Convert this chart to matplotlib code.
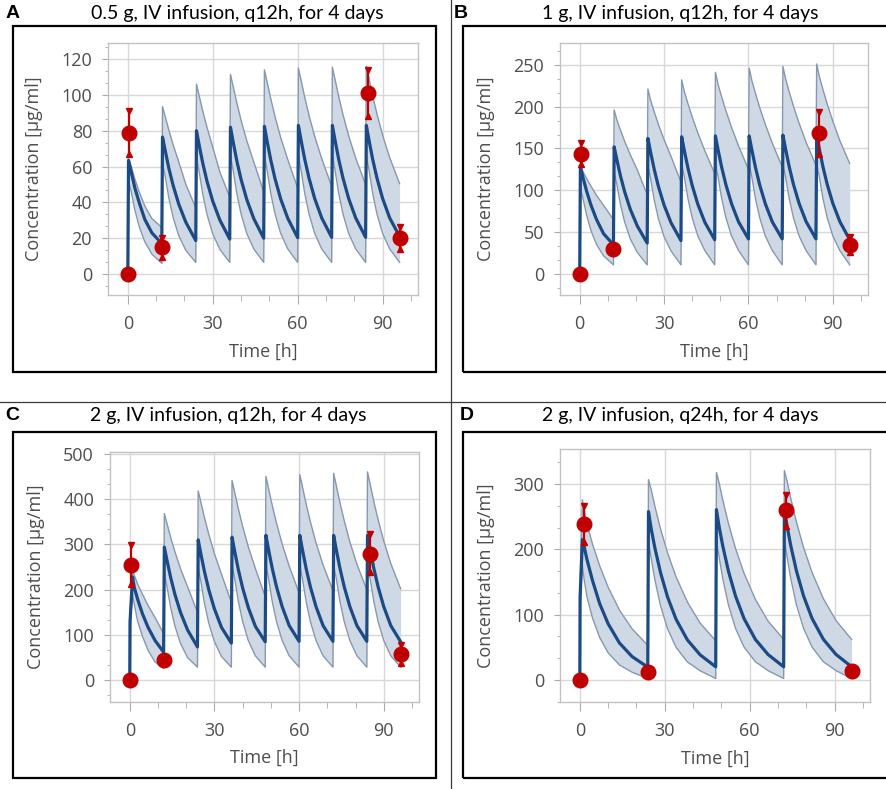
import matplotlib
matplotlib.use("Agg")
import matplotlib.pyplot as plt
import numpy as np
from matplotlib.lines import Line2D
from matplotlib.patches import Rectangle
from matplotlib.ticker import MultipleLocator, AutoMinorLocator

plt.rcParams['font.family'] = ['Open Sans', 'DejaVu Sans']

# ---- simulated concentration profiles ----
TIME_Q12 = [0, 0.25, 1.2, 2.5, 4, 6, 8.5,
            12, 12.25, 13.2, 14.5, 16, 18, 20.5,
            24, 24.25, 25.2, 26.5, 28, 30, 32.5,
            36, 36.25, 37.2, 38.5, 40, 42, 44.5,
            48, 48.25, 49.2, 50.5, 52, 54, 56.5,
            60, 60.25, 61.2, 62.5, 64, 66, 68.5,
            72, 72.25, 73.2, 74.5, 76, 78, 80.5,
            84, 84.25, 85.2, 86.5, 88, 90, 92.5,
            96]

TIME_C = [0, 0.1, 1.0, 1.6, 2.8, 4.5, 6.5, 9,
          12, 12.25, 13.2, 14.5, 16, 18, 20.5,
          24, 24.25, 25.2, 26.5, 28, 30, 32.5,
          36, 36.25, 37.2, 38.5, 40, 42, 44.5,
          48, 48.25, 49.2, 50.5, 52, 54, 56.5,
          60, 60.25, 61.2, 62.5, 64, 66, 68.5,
          72, 72.25, 73.2, 74.5, 76, 78, 80.5,
          84, 84.25, 85.2, 86.5, 88, 90, 92.5,
          96]

TIME_Q24 = [0, 0.1, 0.9, 1.5, 2.5, 4.5, 7, 10, 14, 18.5,
            24, 24.25, 25.2, 26.5, 28.5, 31, 34, 38, 42.5,
            48, 48.25, 49.2, 50.5, 52.5, 55, 58, 62, 66.5,
            72, 72.25, 73.2, 74.5, 76.5, 79, 82, 86, 90.5,
            96]

# panel A: 0.5 g q12h
A_MED = [0, 63.5, 57, 48, 40, 30.5, 23,
         17, 76.5, 69, 59, 49.5, 39, 28.9,
         18.7, 80, 72, 61.7, 51.6, 40.7, 30.2,
         19.5, 82, 73.8, 63.2, 52.9, 41.7, 30.9,
         20, 82.5, 74.2, 63.6, 53.2, 41.9, 31.1,
         20.3, 83, 74.7, 64, 53.6, 42.2, 31.3,
         20.5, 83, 74.7, 64, 53.6, 42.2, 31.3,
         20.5, 83, 74.7, 64, 53.6, 42.2, 31.3,
         21]
A_HI = [0, 64, 60, 53, 46, 38, 31,
        26, 93.5, 88, 80.3, 72.2, 62.6, 50,
        37, 106, 99.6, 90.8, 81.7, 70.8, 57,
        43, 111.5, 104.8, 95.6, 85.9, 74.5, 62.5,
        46, 114, 107.2, 97.8, 87.9, 76.2, 63.9,
        48, 115, 108.1, 98.6, 88.6, 76.9, 64.4,
        49, 115.5, 108.6, 99, 89, 77.2, 64.7,
        50, 116, 109, 99.4, 89.4, 77.5, 65,
        50.5]
A_LO = [0, 52, 46, 35.7, 26.6, 18, 11.1,
        6, 62, 54.6, 42.4, 31.6, 21.4, 13.2,
        6.5, 65, 57.2, 44.4, 33.1, 22.4, 13.8,
        6.5, 66, 58, 45, 33.6, 22.7, 14,
        6.5, 66, 58, 45, 33.6, 22.7, 14,
        6.5, 66, 58, 45, 33.6, 22.7, 14,
        6.5, 66, 58, 45, 33.6, 22.7, 14,
        6.5, 66, 58, 45, 33.6, 22.7, 14,
        6.5]

# panel B: 1 g q12h
B_MED = [0, 128, 115, 98.6, 82.5, 65, 48.2,
         35, 152, 136.8, 117.2, 98.1, 77.3, 57.3,
         37, 162, 145.8, 125, 104.5, 82.4, 61.1,
         40, 164, 147.6, 126.5, 105.8, 83.4, 61.8,
         41, 165, 148.5, 127.3, 106.5, 83.9, 62.2,
         42, 165, 148.5, 127.3, 106.5, 83.9, 62.2,
         42, 166, 149.4, 128, 107.1, 84.4, 62.6,
         42, 166, 149.4, 128, 107.1, 84.4, 62.6,
         41]
B_HI = [0, 130, 122, 114, 105, 94, 82,
        65, 196, 184.2, 171.9, 158.4, 142.4, 124.3,
        95, 221, 207.7, 193.8, 178.6, 160.6, 140.2,
        110, 232, 218, 203.4, 187.5, 168.5, 147.2,
        120, 241, 226.5, 211.3, 194.8, 175.1, 152.9,
        125, 246, 231.2, 215.7, 198.8, 178.7, 156.1,
        128, 248, 233.1, 217.5, 200.5, 180.2, 157.3,
        130, 251, 236, 220.2, 203, 182.4, 159.3,
        132]
B_LO = [0, 102, 90, 69.8, 52.1, 35.3, 21.7,
        11, 122, 107, 83, 62, 41.9, 25.8,
        11, 130, 114, 88.5, 66, 44.7, 27.5,
        11, 132, 116, 90, 67.2, 45.5, 28,
        11, 132, 116, 90, 67.2, 45.5, 28,
        11, 132, 116, 90, 67.2, 45.5, 28,
        11, 132, 116, 90, 67.2, 45.5, 28,
        11, 132, 116, 90, 67.2, 45.5, 28,
        11]

# panel C: 2 g q12h
C_MED = [0, 130, 228, 205, 178.6, 146.8, 116.6, 87.5,
         62, 294, 264.6, 226.8, 189.7, 149.5, 110.9,
         73.5, 310, 279, 239.1, 200, 157.6, 116.9,
         82, 316, 284.4, 243.7, 203.9, 160.7, 119.2,
         85, 320, 288, 246.8, 206.5, 162.7, 120.7,
         86, 320, 288, 246.8, 206.5, 162.7, 120.7,
         86, 320, 288, 246.8, 206.5, 162.7, 120.7,
         86, 320, 288, 246.8, 206.5, 162.7, 120.7,
         85]
C_HI = [0, 135, 242, 232, 212, 190, 165, 138,
        103, 368, 346, 315.6, 283.7, 246, 206.2,
        150, 418, 393, 358.4, 322.3, 279.4, 234.2,
        172, 441, 414.5, 378, 339.9, 294.7, 247,
        185, 450, 423, 385.8, 346.9, 300.8, 252.1,
        193, 454, 426.8, 389.2, 350, 303.5, 254.4,
        198, 457, 429.6, 391.8, 352.3, 305.4, 256,
        200, 460, 432.4, 394.3, 354.6, 307.4, 257.7,
        202]
C_LO = [0, 120, 190, 168, 130, 97, 66, 40,
        26, 235, 207, 160.6, 119.9, 81.1, 49.9,
        29, 248, 218, 169.2, 126.2, 85.5, 52.5,
        29, 255, 224, 173.8, 129.7, 87.8, 54,
        29, 255, 224, 173.8, 129.7, 87.8, 54,
        29, 255, 224, 173.8, 129.7, 87.8, 54,
        29, 255, 224, 173.8, 129.7, 87.8, 54,
        29, 255, 224, 173.8, 129.7, 87.8, 54,
        29]

# panel D: 2 g q24h
D_MED = [0, 127, 215, 205, 185, 152, 117, 86, 56.5, 35.5,
         19.5, 258, 232, 202.5, 164.5, 126.9, 92.8, 61.2, 38.3,
         20, 261, 235, 205.2, 166.6, 128.5, 94, 62, 38.8,
         20, 262, 236, 206, 167.3, 129.1, 94.4, 62.3, 38.9,
         20]
D_HI = [0, 135, 276, 262, 239, 208, 175, 142, 107, 78,
        53, 307, 291.7, 266.3, 231.6, 194.6, 157.8, 119.3, 86.9,
        60, 318, 302, 275.7, 239.8, 201.4, 163.4, 123.5, 90,
        62, 321, 305, 278.5, 242.2, 203.4, 165, 124.7, 90.9,
        62]
D_LO = [0, 110, 176, 155, 127.6, 94.6, 65, 41.4, 22.8, 11.6,
        2, 212, 186.6, 153.6, 113.8, 78.2, 49.8, 27.4, 13.9,
        2, 214, 188.3, 155, 114.9, 78.9, 50.3, 27.7, 14.1,
        2, 215, 189.2, 155.7, 115.4, 79.3, 50.5, 27.8, 14.1,
        2]

# ---- observed concentrations (mean, error bar low/high) ----
nan = np.nan
A_OBS_T = [0, 0.5, 12, 85, 96]
A_OBS_C = [0, 79, 15, 101, 20]
A_OBS_LO = [nan, 67, 9.5, 88, 14]
A_OBS_HI = [nan, 91, 20, 114, 26]

B_OBS_T = [0, 0.5, 12, 85, 96]
B_OBS_C = [0, 144, 30, 168, 35]
B_OBS_LO = [nan, 132, nan, 143, 26]
B_OBS_HI = [nan, 156, nan, 193, 44]

C_OBS_T = [0, 0.5, 12, 85, 96]
C_OBS_C = [0, 255, 45, 278, 58]
C_OBS_LO = [nan, 213, nan, 240, 38]
C_OBS_HI = [nan, 298, nan, 322, 78]

D_OBS_T = [0, 1.5, 24, 73, 96]
D_OBS_C = [0, 239, 12, 260, 14]
D_OBS_LO = [nan, 212, nan, 236, nan]
D_OBS_HI = [nan, 266, nan, 284, nan]

TITLES = ["0.5 g, IV infusion, q12h, for 4 days",
          "1 g, IV infusion, q12h, for 4 days",
          "2 g, IV infusion, q12h, for 4 days",
          "2 g, IV infusion, q24h, for 4 days"]
LETTERS = ["A", "B", "C", "D"]

MED_COLOR = "#1b4a85"
BAND_COLOR = "#cfd9e5"
BAND_EDGE = "#8798ae"
RED = "#c00000"
TXT = "#4e4e4e"

W, H = 886, 789


def fx(px):
    return px / W


def fy(py):
    return 1 - py / H


def axes_rect(x0, y0, x1, y1):
    return [fx(x0), fy(y1), fx(x1) - fx(x0), fy(y0) - fy(y1)]


def draw_panel(fig, letter, title, box, rect, t, med, lo, hi,
               obs, ylim, ystep, title_xy, letter_xy):
    # frame around panel
    x0, y0, x1, y1 = box
    fig.add_artist(Rectangle((fx(x0), fy(y1)), fx(x1) - fx(x0), fy(y0) - fy(y1),
                             transform=fig.transFigure, fill=False,
                             ec="black", lw=1.6))
    fig.text(fx(title_xy[0]), fy(title_xy[1]), title, ha="center", va="center",
             fontsize=14, family=["Lato", "DejaVu Sans"], color="black")
    fig.text(fx(letter_xy[0]), fy(letter_xy[1]), letter, ha="left", va="center",
             fontsize=14, fontweight="bold", family=["Liberation Sans", "DejaVu Sans"])

    ax = fig.add_axes(axes_rect(*rect))
    ax.fill_between(t, lo, hi, color=BAND_COLOR, lw=0, zorder=2)
    ax.plot(t, hi, color=BAND_EDGE, lw=1.0, zorder=3)
    ax.plot(t, lo, color=BAND_EDGE, lw=1.0, zorder=3)
    ax.plot(t, med, color=MED_COLOR, lw=2.3, zorder=4)

    ot, oc, olo, ohi = [np.array(v, dtype=float) for v in obs]
    m = ~np.isnan(olo)
    ax.vlines(ot[m], olo[m], ohi[m], color=RED, lw=1.6, zorder=5)
    ax.plot(ot[m], ohi[m], "v", ms=5, color=RED, zorder=5, clip_on=False)
    ax.plot(ot[m], olo[m], "^", ms=5, color=RED, zorder=5, clip_on=False)
    ax.plot(ot, oc, "o", ms=10.5, color=RED, zorder=6, clip_on=False)

    ax.set_xlim(-7, 102.5)
    ax.set_ylim(*ylim)
    ax.xaxis.set_major_locator(MultipleLocator(30))
    ax.xaxis.set_minor_locator(AutoMinorLocator(3))
    ax.yaxis.set_major_locator(MultipleLocator(ystep))
    ax.yaxis.set_minor_locator(AutoMinorLocator(3))
    ax.grid(True, which="major", color="#d8d8d8", lw=1.0)
    ax.set_axisbelow(True)
    for s in ax.spines.values():
        s.set_color("#c2c2c2")
        s.set_linewidth(1.0)
    ax.tick_params(axis="both", which="both", direction="out", color="#aaaaaa",
                   labelcolor=TXT, labelsize=13)
    ax.tick_params(axis="x", which="major", length=6.5, pad=8)
    ax.tick_params(axis="x", which="minor", length=4)
    ax.tick_params(axis="y", which="major", length=4.5, pad=7)
    ax.tick_params(axis="y", which="minor", length=2.5)

    ax.set_xlabel("Time [h]", fontsize=13, color=TXT)
    ax.set_ylabel("Concentration [µg/ml]", fontsize=13, color=TXT)
    ax.xaxis.label.set_va("center")
    ax.yaxis.label.set_va("center")
    ax.xaxis.set_label_coords(0.5, -0.225)
    ax.yaxis.set_label_coords(-0.24, 0.5)
    return ax


fig = plt.figure(figsize=(8.86, 7.89), dpi=100)

# divider lines between panels
fig.add_artist(Line2D([fx(451), fx(451)], [0, 1], transform=fig.transFigure,
                      color="#3a3a3a", lw=0.9))
fig.add_artist(Line2D([0, 1], [fy(402), fy(402)], transform=fig.transFigure,
                      color="#3a3a3a", lw=0.9))

draw_panel(fig, LETTERS[0], TITLES[0], (13, 26, 436, 372), (108, 43, 418, 295),
           TIME_Q12, A_MED, A_LO, A_HI,
           (A_OBS_T, A_OBS_C, A_OBS_LO, A_OBS_HI), (-11.7, 129), 20,
           (237, 13), (6, 14))
draw_panel(fig, LETTERS[1], TITLES[1], (463, 26, 892, 372), (560, 43, 868, 295),
           TIME_Q12, B_MED, B_LO, B_HI,
           (B_OBS_T, B_OBS_C, B_OBS_LO, B_OBS_HI), (-25, 276), 50,
           (680, 13), (454, 14))
draw_panel(fig, LETTERS[2], TITLES[2], (13, 432, 436, 778), (110, 452, 419, 702),
           TIME_C, C_MED, C_LO, C_HI,
           (C_OBS_T, C_OBS_C, C_OBS_LO, C_OBS_HI), (-48, 504), 100,
           (228, 416), (5, 416))
draw_panel(fig, LETTERS[3], TITLES[3], (463, 432, 892, 778), (560, 449, 870, 702),
           TIME_Q24, D_MED, D_LO, D_HI,
           (D_OBS_T, D_OBS_C, D_OBS_LO, D_OBS_HI), (-34, 354), 100,
           (680, 416), (460, 416))

fig.savefig("out.png", dpi=100)
